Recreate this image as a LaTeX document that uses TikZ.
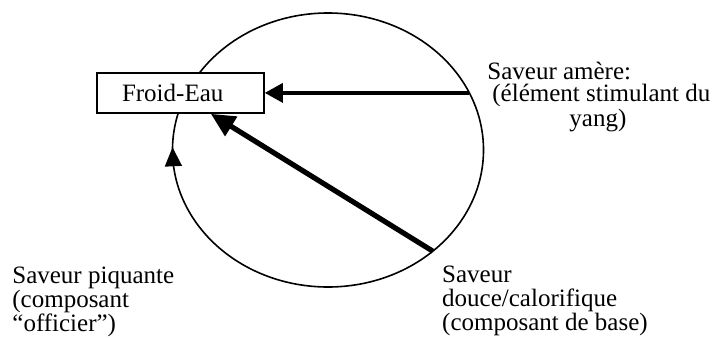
\documentclass[tikz,border=0pt]{standalone}
\usepackage{fontspec}
\setmainfont{Liberation Serif}
\usetikzlibrary{%
	positioning,
	calc,
	arrows.meta,
	shapes.geometric
}
\begin{document}
\begin{tikzpicture}[x=0.5pt,y=-0.5pt,
		ringline/.style={draw,shape=ellipse,minimum width=155.5pt,minimum height=137pt,inner sep=0pt,outer sep=0pt,line width=.8pt},
		element/.style={draw,shape=rectangle,fill=white,minimum width=83.5pt,minimum height=20pt,text width=58.5pt,align=left,inner xsep=12.5pt,line width=.8pt,font=\fontsize{12.5}{12}\selectfont},
		saveur/.style={inner sep=0pt,anchor=north west,align=left,font=\fontsize{12.5}{12}\selectfont},
		flow/.style={line width=1.6pt,-{Triangle[length=9pt,width=9.5pt]}}
	]
	\useasboundingbox (0,0) rectangle (719,338);

		\node (ring) [ringline] at (328,150) {};
		\node (box) [element] at (180.5,93) {Froid-Eau};

		\coordinate (amere-start) at (ring.22.7);
		\coordinate (douce-start) at (ring.-44.5);
		\coordinate (douce-end) at ($(box.south west)!.68!(box.south east)$);

		\draw [flow] (amere-start) -- (amere-start -| box.east);
		\draw [flow, line width=2.6pt, -{Triangle[length=12pt,width=11pt]}] (douce-start) -- (douce-end);
		\draw [line width=.8pt, -{Triangle[length=9.5pt,width=8.5pt]}] (ring.185.5) -- (ring.179);

		\node (amere) [saveur, font=\fontsize{12.5}{11}\selectfont] at (487,62) {Saveur amère:\\\hspace*{2.5pt}(élément stimulant du\\\hspace*{41pt}yang)};
		\node (douce) [saveur, below right=7pt and 4.5pt of douce-start] {Saveur\\douce/calorifique\\(composant de base)};
		\node (piquante) [saveur] at (12,267) {Saveur piquante\\(composant\\“officier”)};

\end{tikzpicture}
\end{document}
